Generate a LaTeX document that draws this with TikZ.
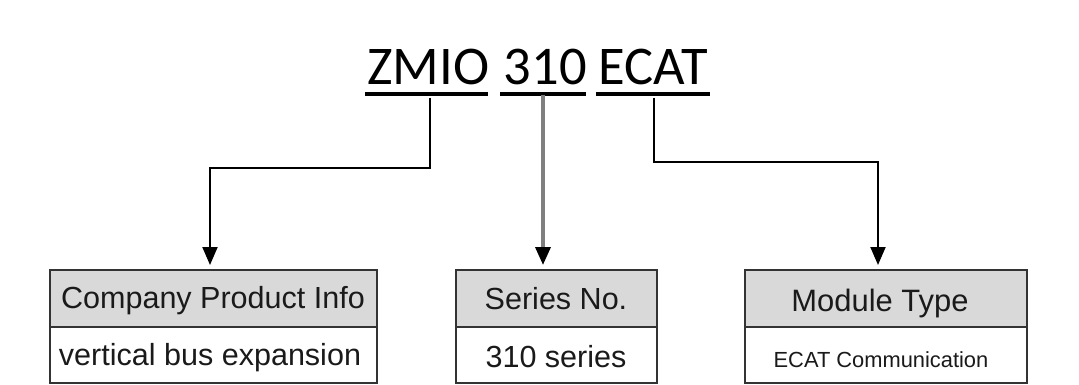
\documentclass[tikz,border=0pt]{standalone}
\usepackage{fontspec}
\setmainfont{Liberation Sans}
\newfontfamily\titlefont{Carlito}
\usetikzlibrary{arrows.meta}
\definecolor{headfill}{HTML}{D9D9D9}
\definecolor{boxline}{HTML}{333333}
\definecolor{graylink}{HTML}{7F7F7F}
\definecolor{txt}{HTML}{1A1A1A}
\tikzset{
  titleword/.style={inner sep=0pt, anchor=base west, text=black, font=\titlefont\fontsize{40.9pt}{48pt}\selectfont},
  uline/.style={line width=3pt, black},
  conn/.style={line width=1.5pt, black, -{Triangle[width=11.25pt,length=13.5pt]}, shorten >=3.75pt},
  grayconn/.style={line width=2.6pt, draw=graylink, -{Triangle[width=11.25pt,length=13.5pt,color=black]}, shorten >=3.75pt},
  headcell/.style={draw=boxline, line width=1.5pt, fill=headfill, minimum height=57*0.75pt, inner sep=0pt, outer sep=0pt, anchor=north west},
  rowcell/.style={draw=boxline, line width=1.5pt, fill=white, minimum height=56*0.75pt, inner sep=0pt, outer sep=0pt, anchor=north},
  celltext/.style={inner sep=0pt, anchor=base, text=txt, font=\fontsize{22.9pt}{27pt}\selectfont},
  smalltext/.style={inner sep=0pt, anchor=base, text=txt, font=\fontsize{16.4pt}{20pt}\selectfont},
}
\begin{document}
\begin{tikzpicture}[x=0.75pt,y=-0.75pt]
\useasboundingbox (0,0) rectangle (1079,385);
% title words
\node[titleword] (zmio) at (367,85) {ZMIO};
\node[titleword] (ser) at (503.5,85) {310};
\node[titleword] (ecat) at (598.5,85) {ECAT};
\draw[uline] ([xshift=-1.5pt,yshift=-6.75pt]zmio.base west) -- ([xshift=-1.5pt,yshift=-6.75pt]zmio.base east);
\draw[uline] ([xshift=-2.5pt,yshift=-6.75pt]ser.base west) -- ([xshift=-1pt,yshift=-6.75pt]ser.base east);
\draw[uline] ([xshift=-2pt,yshift=-6.75pt]ecat.base west) -- ([xshift=1.5pt,yshift=-6.75pt]ecat.base east);
% boxes
\node[headcell, minimum width=327*0.75pt] (h1) at (50,270) {};
\node[rowcell, minimum width=327*0.75pt] (r1) at (h1.south) {};
\node[headcell, minimum width=201*0.75pt] (h2) at (456,270) {};
\node[rowcell, minimum width=201*0.75pt] (r2) at (h2.south) {};
\node[headcell, minimum width=282*0.75pt] (h3) at (745,270) {};
\node[rowcell, minimum width=282*0.75pt] (r3) at (h3.south) {};
% texts
\node[celltext] (t1) at (213,308) {Company Product Info};
\node[celltext] (u1) at (210,365) {vertical bus expansion};
\node[celltext] (t2) at (556,309) {Series No.};
\node[celltext] (u2) at (556,367) {310 series};
\node[celltext, font=\fontsize{23.2pt}{27pt}\selectfont] (t3) at (880,311) {Module Type};
\node[smalltext] (u3) at (881,367) {ECAT Communication};
% connectors
\coordinate (zs) at (430,98);
\coordinate (zb) at (210,168);
\coordinate (ms) at (543,95);
\coordinate (es) at (654,98);
\coordinate (eb) at (878,162);
\draw[conn] (zs) |- (zb) -- (zb |- h1.north);
\draw[grayconn] (ms) -- (ms |- h2.north);
\draw[conn] (es) |- (eb) -- (eb |- h3.north);
\end{tikzpicture}
\end{document}
